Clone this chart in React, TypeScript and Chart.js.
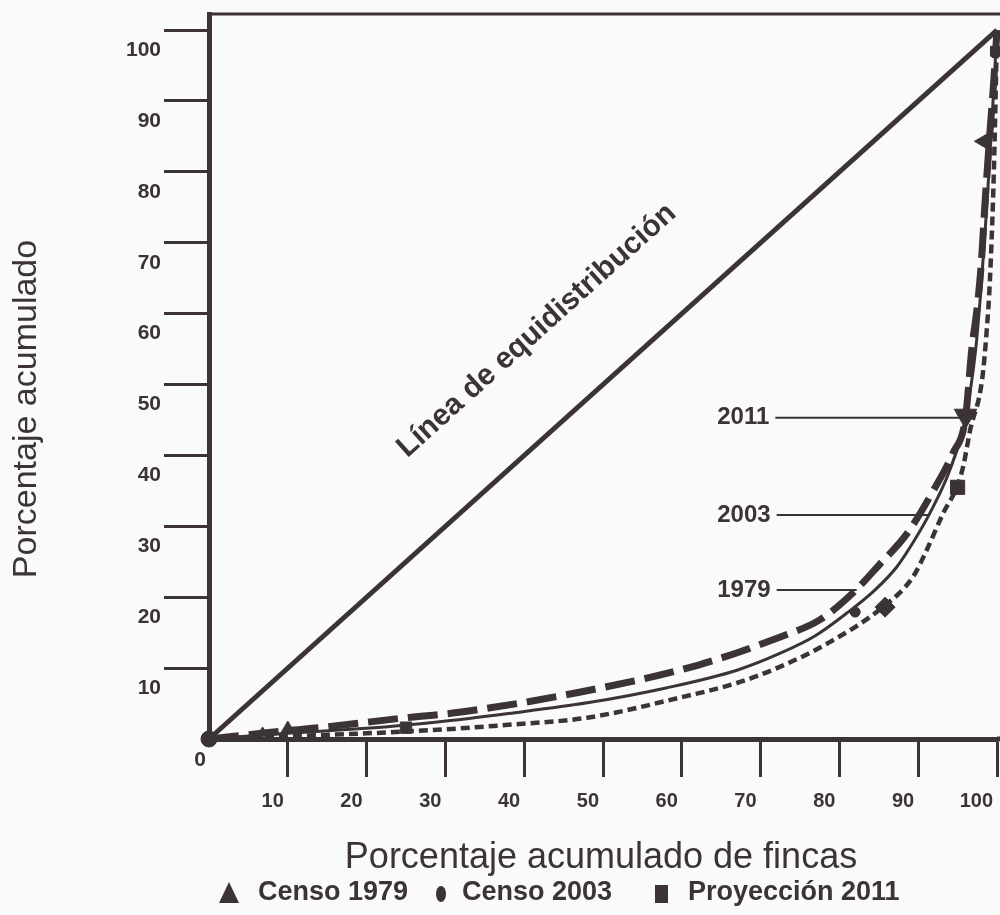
import React, { useEffect, useRef } from 'react';
import { Chart, registerables } from 'chart.js';

Chart.register(...registerables);

const INK = '#3b3335';
const FONT = '"Liberation Sans", Arial, sans-serif';

// ---- data ----
const equalX = [0, 100];
const equalY = [0, 100];

const x1979 = [0, 5, 10, 14, 25, 32, 47, 62, 72.5, 77.5, 81.7, 85, 88.6, 91.9, 94.4, 96, 96.8, 97.5, 98, 98.5, 99, 99.6, 100];
const y1979 = [0, 0.6, 1.2, 1.6, 3.0, 3.8, 6.6, 10.4, 14.4, 16.8, 20.6, 24.5, 29, 35, 40.3, 45.3, 55, 61, 67, 76, 84, 93, 100];

const x2003 = [0, 10, 20, 29, 38, 48, 58, 67, 72.5, 77, 81, 84.5, 87.3, 89.5, 91.5, 94, 96, 97.3, 98, 98.7, 99.3, 100];
const y2003 = [0, 0.8, 1.5, 2.4, 3.6, 5.1, 7.2, 9.7, 12.1, 14.6, 17.8, 21, 24.3, 28, 31.9, 37.9, 45.3, 55, 64, 75, 86, 100];

const x2011 = [0, 10, 20, 29, 38, 48, 60, 67, 72.5, 79, 85.5, 89.3, 91.1, 93.2, 94.9, 95.7, 96.6, 98.1, 98.7, 99.1, 99.6, 100];
const y2011 = [0, 0.4, 0.8, 1.3, 2.0, 3.0, 5.9, 7.9, 10.2, 13.8, 18.6, 22.8, 26.7, 31.9, 35.5, 38.4, 43.6, 50.6, 57.7, 64.7, 80, 100];

// markers
const triX = [6.8, 10, 96, 98.4];
const triY = [1.0, 1.4, 45.6, 84.3];
const dotX = [0, 82];
const dotY = [0, 17.9];
const sqX = [25, 85.8, 95, 99.8];
const sqY = [1.6, 18.6, 35.5, 97];

const xTicks = [10, 20, 30, 40, 50, 60, 70, 80, 90, 100];
const yTicks = [10, 20, 30, 40, 50, 60, 70, 80, 90, 100];

const legendLabels = ['Censo 1979', 'Censo 2003', 'Proyección 2011'];
const curveLabels = ['2011', '2003', '1979'];
const curveLabelY = [45.3, 31.6, 21.0];
const curveLabelEndX = [95.8, 91.5, 82.2];
const curveLabelStartX = 64.5;

const diagonalLabel = 'Línea de equidistribución';
const xTitle = 'Porcentaje acumulado de fincas';
const yTitle = 'Porcentaje acumulado';

const pts = (xs: number[], ys: number[]) => xs.map((x, i) => ({ x, y: ys[i] }));

const extrasPlugin = {
  id: 'extras',
  beforeDraw(chart: any) {
    const { ctx } = chart;
    ctx.save();
    ctx.fillStyle = '#fafafa';
    ctx.fillRect(0, 0, chart.width, chart.height);
    ctx.restore();
  },
  afterDraw(chart: any) {
    const { ctx, chartArea } = chart;
    const xs = chart.scales.x;
    const ys = chart.scales.y;
    ctx.save();
    ctx.fillStyle = INK;
    ctx.strokeStyle = INK;

    // top frame line and bottom axis extension
    ctx.lineWidth = 3;
    ctx.beginPath();
    ctx.moveTo(chartArea.left - 2, chartArea.top);
    ctx.lineTo(chart.width, chartArea.top);
    ctx.stroke();
    ctx.lineWidth = 5;
    ctx.beginPath();
    ctx.moveTo(chartArea.right, chartArea.bottom);
    ctx.lineTo(chart.width, chartArea.bottom);
    ctx.stroke();

    // "0" at origin
    ctx.font = `bold 21px ${FONT}`;
    ctx.textAlign = 'center';
    ctx.textBaseline = 'middle';
    ctx.fillText('0', xs.getPixelForValue(0) - 9, ys.getPixelForValue(0) + 21);

    // diagonal label
    const x0 = xs.getPixelForValue(0), y0 = ys.getPixelForValue(0);
    const x1 = xs.getPixelForValue(100), y1 = ys.getPixelForValue(100);
    const ang = Math.atan2(y1 - y0, x1 - x0);
    ctx.save();
    ctx.translate(xs.getPixelForValue(41.6), ys.getPixelForValue(57.6));
    ctx.rotate(ang);
    ctx.font = `bold 30px ${FONT}`;
    ctx.fillText(diagonalLabel, 0, 0);
    ctx.restore();

    // curve labels with leader lines
    ctx.font = `bold 24px ${FONT}`;
    ctx.textAlign = 'left';
    curveLabels.forEach((lab, i) => {
      const tx = xs.getPixelForValue(curveLabelStartX);
      const ty = ys.getPixelForValue(curveLabelY[i]);
      ctx.fillText(lab, tx, ty);
      const w = ctx.measureText(lab).width;
      ctx.lineWidth = 2;
      ctx.beginPath();
      ctx.moveTo(tx + w + 6, ty);
      ctx.lineTo(xs.getPixelForValue(curveLabelEndX[i]), ty);
      ctx.stroke();
    });

    // axis titles
    ctx.textAlign = 'center';
    ctx.font = `36px ${FONT}`;
    ctx.fillText(xTitle, 601, 858);
    ctx.font = `34px ${FONT}`;
    ctx.save();
    ctx.translate(27, 409);
    ctx.rotate(-Math.PI / 2);
    ctx.fillText(yTitle, 0, 0);
    ctx.restore();

    // legend
    const ly = 893;
    ctx.font = `bold 27px ${FONT}`;
    ctx.textAlign = 'left';
    ctx.beginPath();
    ctx.moveTo(229, ly - 11);
    ctx.lineTo(239, ly + 10);
    ctx.lineTo(219, ly + 10);
    ctx.closePath();
    ctx.fill();
    ctx.fillText(legendLabels[0], 258, ly);
    ctx.beginPath();
    ctx.ellipse(441, ly + 1, 5, 8, 0, 0, Math.PI * 2);
    ctx.fill();
    ctx.fillText(legendLabels[1], 462, ly);
    ctx.fillRect(655, ly - 8, 13, 18);
    ctx.fillText(legendLabels[2], 688, ly);

    ctx.restore();
  },
};

export default function App() {
  const ref = useRef<HTMLCanvasElement>(null);

  useEffect(() => {
    if (!ref.current) return;
    Chart.defaults.font.family = FONT;
    const chart = new Chart(ref.current, {
      type: 'line',
      data: {
        datasets: [
          { label: 'equidistribución', data: pts(equalX, equalY), borderColor: INK, borderWidth: 5, pointRadius: 0, clip: false },
          { label: '1979', data: pts(x1979, y1979), borderColor: INK, borderWidth: 7, borderDash: [30, 10], pointRadius: 0, cubicInterpolationMode: 'monotone', clip: false },
          { label: '2003', data: pts(x2003, y2003), borderColor: INK, borderWidth: 3, pointRadius: 0, cubicInterpolationMode: 'monotone', clip: false },
          { label: '2011', data: pts(x2011, y2011), borderColor: INK, borderWidth: 4.5, borderDash: [9, 5], pointRadius: 0, cubicInterpolationMode: 'monotone', clip: false },
          { label: 'Censo 1979', data: pts(triX, triY), showLine: false, pointStyle: 'triangle', pointRadius: [5, 8, 13, 10], pointRotation: [0, 0, 180, -90], backgroundColor: INK, borderColor: INK, clip: false },
          { label: 'Censo 2003', data: pts(dotX, dotY), showLine: false, pointStyle: 'circle', pointRadius: [8, 5], backgroundColor: INK, borderColor: INK, clip: false },
          { label: 'Proyección 2011', data: pts(sqX, sqY), showLine: false, pointStyle: 'rect', pointRadius: [8, 10, 10, 7], pointRotation: [0, 45, 0, 0], backgroundColor: INK, borderColor: INK, clip: false },
        ] as any,
      },
      options: {
        animation: false,
        responsive: true,
        maintainAspectRatio: false,
        events: [],
        layout: { autoPadding: false, padding: { left: 0, top: 14, right: 3, bottom: 0 } },
        plugins: {
          legend: { display: false },
          tooltip: { enabled: false },
          title: { display: false },
        },
        scales: {
          x: {
            type: 'linear',
            min: 0,
            max: 100,
            bounds: 'data',
            afterBuildTicks: (s: any) => { s.ticks = xTicks.map((v) => ({ value: v })); },
            afterFit: (s: any) => { s.height = 176; s.paddingLeft = 0; s.paddingRight = 0; },
            border: { display: true, color: INK, width: 5 },
            grid: { display: true, drawOnChartArea: false, drawTicks: true, tickLength: 38, tickWidth: 3, tickColor: INK, color: INK },
            ticks: { autoSkip: false, maxRotation: 0, minRotation: 0, align: 'end', labelOffset: -4, padding: 12, color: INK, font: { size: 20, weight: 'bold', family: FONT } },
          },
          y: {
            type: 'linear',
            min: 0,
            max: 102.26,
            bounds: 'data',
            afterBuildTicks: (s: any) => { s.ticks = yTicks.map((v) => ({ value: v })); },
            afterFit: (s: any) => { s.width = 209; s.paddingTop = 0; s.paddingBottom = 0; },
            border: { display: true, color: INK, width: 5 },
            grid: { display: true, drawOnChartArea: false, drawTicks: true, tickLength: 45, tickWidth: 3, tickColor: INK, color: INK },
            ticks: { labelOffset: 20, padding: 3, color: INK, font: { size: 21, weight: 'bold', family: FONT } },
          },
        },
      } as any,
      plugins: [extrasPlugin],
    });
    return () => chart.destroy();
  }, []);

  return (
    <div style={{ position: 'fixed', left: 0, top: 0, width: 1000, height: 915, background: '#fafafa' }}>
      <canvas ref={ref} />
    </div>
  );
}
